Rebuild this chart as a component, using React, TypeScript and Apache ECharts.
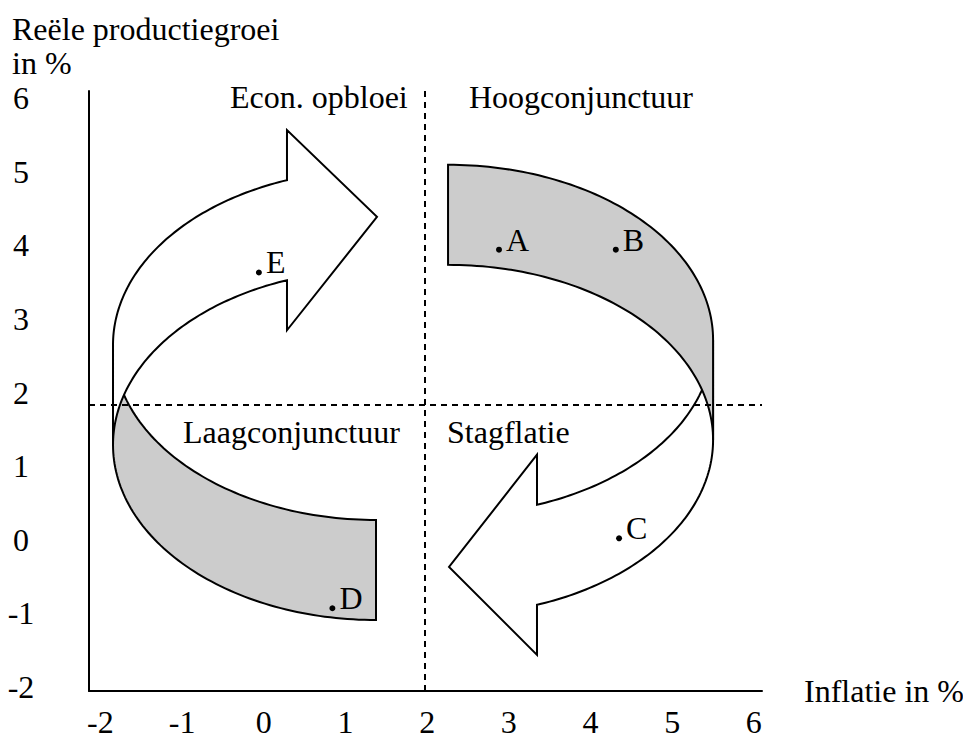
import { useEffect, useRef } from 'react';
import * as echarts from 'echarts';

// ---- axis ticks / names ----
const xTickLabels = ['-2', '-1', '0', '1', '2', '3', '4', '5', '6'];
const yTickLabels = ['-2', '-1', '0', '1', '2', '3', '4', '5', '6'];
const xAxisTitle = 'Inflatie in %';
const yAxisTitle = ['Reële productiegroei', 'in %'];

// ---- quadrant (phase) labels ----
const phaseLabels = ['Econ. opbloei', 'Hoogconjunctuur', 'Laagconjunctuur', 'Stagflatie'];

// ---- reference lines (dashed) ----
const inflationNorm = 1.97;
const growthNorm = 1.83;

// ---- economy positions ----
const pointNames = ['A', 'B', 'C', 'D', 'E'];
const pointInflation = [2.88, 4.31, 4.35, 0.84, -0.06];
const pointGrowth = [3.94, 3.94, 0.02, -0.93, 3.63];

// ---- cycle arrows (ribbon on an ellipse, data units) ----
const ribbonCenterX = [2.256, 1.374];
const ribbonTopY = [2.715, 2.647];
const ribbonRadiusX = [3.245, 3.22];
const ribbonRadiusY = [2.378, 2.378];
const ribbonDepth = [1.359, 1.359];
const shadedFrom = [0, 180];
const shadedTo = [90, 270];
const jointAngle = [0, 180];
const headSide = [-1, 1];
const headBaseX = [3.345, 0.284];
const headTipX = [2.268, 1.386];
const headTipY = [-0.369, 4.386];
const headWing = [0.68, 0.68];

const FONT = "'Liberation Serif', 'Times New Roman', serif";

function tickFormatter(labels: string[]) {
  return (v: number) => {
    const i = Math.round(v);
    if (Math.abs(v - i) > 1e-6) return '';
    return labels[i + 2] ?? '';
  };
}

export default function App() {
  const ref = useRef<HTMLDivElement>(null);

  useEffect(() => {
    if (!ref.current) return;
    const chart = echarts.init(ref.current, null, { renderer: 'svg' });

    const N = 72;
    const rad = Math.PI / 180;

    const renderArrow = (params: any, api: any) => {
      const i = params.dataIndex;
      const cx = ribbonCenterX[i];
      const cy = ribbonTopY[i];
      const rx = ribbonRadiusX[i];
      const ry = ribbonRadiusY[i];
      const d = ribbonDepth[i];
      const top = (t: number) => api.coord([cx + rx * Math.cos(t * rad), cy + ry * Math.sin(t * rad)]);
      const bot = (t: number) => api.coord([cx + rx * Math.cos(t * rad), cy - d + ry * Math.sin(t * rad)]);

      const shaded: number[][] = [];
      const a = shadedFrom[i];
      const b = shadedTo[i];
      for (let k = 0; k <= N; k++) shaded.push(top(a + ((b - a) * k) / N));
      for (let k = N; k >= 0; k--) shaded.push(bot(a + ((b - a) * k) / N));

      const side = headSide[i];
      const hAng = (side * Math.acos((headBaseX[i] - cx) / rx)) / rad;
      const j = jointAngle[i];
      const arrow: number[][] = [];
      for (let k = 0; k <= N; k++) arrow.push(top(j + ((hAng - j) * k) / N));
      const tTop = cy + ry * Math.sin(hAng * rad);
      const tBot = tTop - d;
      arrow.push(api.coord([headBaseX[i], tTop + headWing[i]]));
      arrow.push(api.coord([headTipX[i], headTipY[i]]));
      arrow.push(api.coord([headBaseX[i], tBot - headWing[i]]));
      for (let k = N; k >= 0; k--) arrow.push(bot(j + ((hAng - j) * k) / N));

      const shadedEl = {
        type: 'polygon',
        shape: { points: shaded },
        style: { fill: '#cccccc', stroke: '#000', lineWidth: 2 },
      };
      const arrowEl = {
        type: 'polygon',
        shape: { points: arrow },
        style: { fill: '#ffffff', stroke: '#000', lineWidth: 2, lineJoin: 'miter' },
      };
      return {
        type: 'group',
        children: side < 0 ? [arrowEl, shadedEl] : [shadedEl, arrowEl],
      };
    };

    const textStyle = (text: string) => ({
      text,
      fontSize: 32,
      fontFamily: FONT,
      fill: '#000',
      align: 'left',
      verticalAlign: 'middle',
      textAlign: 'left',
      textVerticalAlign: 'middle',
    });

    const phasePos = [
      [230, 97],
      [469, 97],
      [183, 432],
      [447, 432],
    ];

    const option: any = {
      animation: false,
      backgroundColor: '#ffffff',
      grid: { left: 89, top: 91, width: 673, height: 600, containLabel: false, outerBoundsMode: 'none' },
      xAxis: {
        type: 'value',
        min: -2.14,
        max: 6.1,
        splitNumber: 8,
        minInterval: 1,
        maxInterval: 1,
        name: xAxisTitle,
        nameLocation: 'end',
        nameGap: 42,
        nameTextStyle: { fontFamily: FONT, fontSize: 32, color: '#000', align: 'left', verticalAlign: 'middle', padding: [6, 0, 0, 0] },
        axisLine: { show: true, onZero: false, lineStyle: { color: '#000', width: 2 } },
        axisTick: { show: false },
        splitLine: { show: false },
        axisLabel: {
          formatter: tickFormatter(xTickLabels),
          margin: 15,
          fontFamily: FONT,
          fontSize: 32,
          color: '#000',
        },
      },
      yAxis: {
        type: 'value',
        min: -2.054,
        max: 6.095,
        splitNumber: 8,
        minInterval: 1,
        maxInterval: 1,
        axisLine: { show: true, onZero: false, lineStyle: { color: '#000', width: 2 } },
        axisTick: { show: false },
        splitLine: { show: false },
        axisLabel: {
          formatter: tickFormatter(yTickLabels),
          margin: 68,
          align: 'center',
          fontFamily: FONT,
          fontSize: 32,
          color: '#000',
        },
      },
      graphic: [
        { type: 'text', x: 12, y: 29, silent: true, style: textStyle(yAxisTitle[0]) },
        { type: 'text', x: 12, y: 63, silent: true, style: textStyle(yAxisTitle[1]) },
        ...phaseLabels.map((t, k) => ({
          type: 'text',
          x: phasePos[k][0],
          y: phasePos[k][1],
          silent: true,
          z: 10,
          style: textStyle(t),
        })),
      ],
      series: [
        {
          type: 'line',
          data: [],
          z: 1,
          silent: true,
          markLine: {
            silent: true,
            symbol: ['none', 'none'],
            label: { show: false },
            lineStyle: { color: '#000', width: 2, type: [6, 5], opacity: 1 },
            emphasis: { disabled: true },
            data: [{ xAxis: inflationNorm }, { yAxis: growthNorm }],
          },
        },
        {
          type: 'custom',
          z: 2,
          silent: true,
          clip: false,
          renderItem: renderArrow,
          data: ribbonCenterX.map((x, k) => [x, ribbonTopY[k]]),
        },
        {
          type: 'scatter',
          z: 3,
          silent: true,
          symbol: 'circle',
          symbolSize: 6,
          itemStyle: { color: '#000', opacity: 1 },
          label: {
            show: true,
            formatter: '{b}',
            position: 'right',
            distance: 4,
            offset: [0, -10],
            fontFamily: FONT,
            fontSize: 32,
            color: '#000',
            opacity: 1,
            textBorderWidth: 0,
          },
          data: pointNames.map((n, k) => ({ name: n, value: [pointInflation[k], pointGrowth[k]] })),
        },
      ],
    };

    chart.setOption(option);
    return () => chart.dispose();
  }, []);

  return (
    <div
      ref={ref}
      style={{ position: 'fixed', left: 0, top: 0, width: 963, height: 740, background: '#fff' }}
    />
  );
}
